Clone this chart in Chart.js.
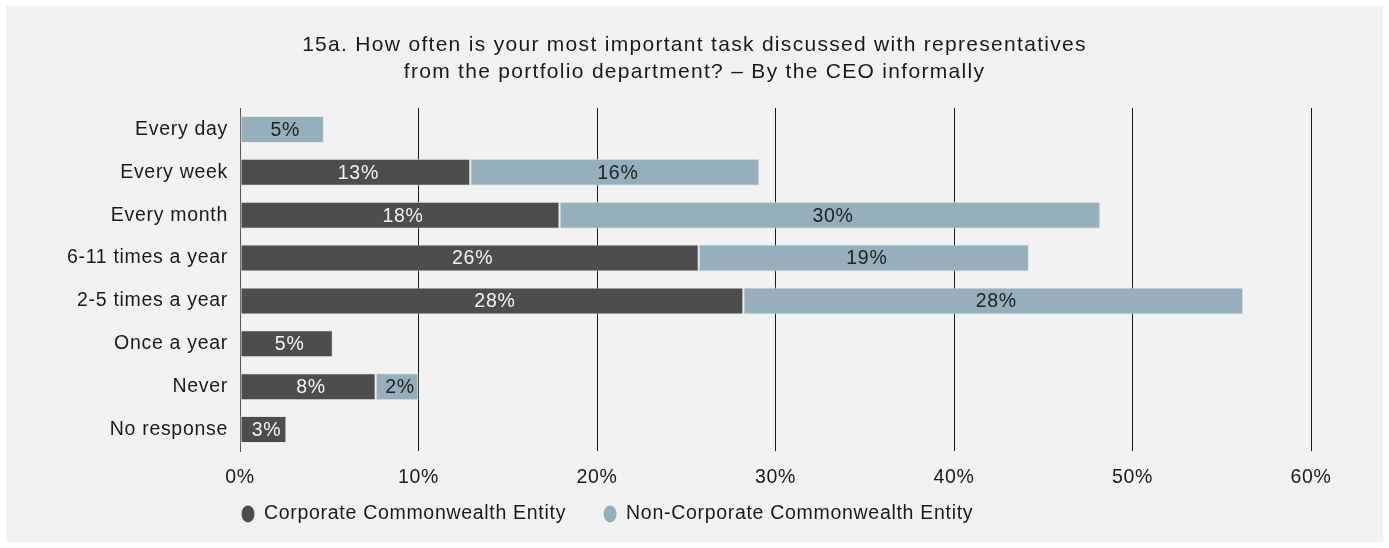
<!DOCTYPE html>
<html>
<head>
<meta charset="utf-8">
<script src="https://cdn.jsdelivr.net/npm/chart.js@4"></script>
<style>
  html, body { margin: 0; padding: 0; background: #ffffff; }
  #card {
    position: absolute;
    left: 6px; top: 6px;
    width: 1377px; height: 536px;
    background: #f2f2f2;
  }
</style>
</head>
<body>
<div id="card"><canvas id="chart"></canvas></div>
<script>
// categories and series (percent of respondents)
const categories = ['Every day', 'Every week', 'Every month', '6-11 times a year',
                    '2-5 times a year', 'Once a year', 'Never', 'No response'];
const corporate = [null, 12.9, 17.9, 25.7, 28.2, 5.2, 7.6, 2.6];
const nonCorporate = [4.7, 16.2, 30.3, 18.5, 28.0, null, 2.4, null];
const xTicks = [0, 10, 20, 30, 40, 50, 60];
const titleLines = ['15a. How often is your most important task discussed with representatives',
                    'from the portfolio department? \u2013 By the CEO informally'];

const FONT = "'Liberation Sans', Arial, Helvetica, sans-serif";
const TEXT = '#1a1a1a';
const SPACING = '0.7px';

// wider tracking, the original font runs wider than Arial
const tracking = {
    id: 'tracking',
    afterInit(chart) { chart.ctx.letterSpacing = SPACING; },
    beforeUpdate(chart) { chart.ctx.letterSpacing = SPACING; },
    beforeDraw(chart) { chart.ctx.letterSpacing = SPACING; }
};

// two line title, centred on the card
const pageTitle = {
    id: 'pageTitle',
    afterDraw(chart) {
        const ctx = chart.ctx;
        ctx.save();
        ctx.letterSpacing = '1.3px';
        ctx.font = '21px ' + FONT;
        ctx.fillStyle = TEXT;
        ctx.textAlign = 'center';
        ctx.textBaseline = 'alphabetic';
        titleLines.forEach(function(line, i) {
            ctx.fillText(line, chart.width / 2, 45 + i * 27);
        });
        ctx.restore();
    }
};

// draws the value inside every bar
const barLabels = {
    id: 'barLabels',
    afterDatasetsDraw(chart) {
        const ctx = chart.ctx;
        ctx.save();
        ctx.font = '19.5px ' + FONT;
        ctx.textAlign = 'center';
        ctx.textBaseline = 'middle';
        chart.data.datasets.forEach(function(ds, i) {
            const meta = chart.getDatasetMeta(i);
            meta.data.forEach(function(bar, j) {
                const v = ds.data[j];
                if (v === null || v === undefined) return;
                const left = Math.min(bar.x, bar.base);
                const right = Math.max(bar.x, bar.base);
                ctx.fillStyle = i === 0 ? '#f4f4f4' : '#222222';
                ctx.fillText(Math.round(v) + '%', (left + right) / 2 + 3, bar.y + 1);
            });
        });
        ctx.restore();
    }
};

// legend under the axis, starting at the left edge of the plot
const bottomLegend = {
    id: 'bottomLegend',
    afterDraw(chart) {
        const ctx = chart.ctx;
        const y = chart.chartArea.bottom + 63;
        let x = chart.chartArea.left + 8;
        ctx.save();
        ctx.font = '19.5px ' + FONT;
        ctx.textBaseline = 'middle';
        ctx.textAlign = 'left';
        chart.data.datasets.forEach(function(ds) {
            ctx.fillStyle = ds.backgroundColor;
            ctx.beginPath();
            ctx.ellipse(x, y, 6.5, 8.5, 0, 0, Math.PI * 2);
            ctx.fill();
            ctx.fillStyle = TEXT;
            ctx.fillText(ds.label, x + 16, y);
            x += 16 + ctx.measureText(ds.label).width + 44;
        });
        ctx.restore();
    }
};

const card = document.getElementById('card');
const canvas = document.getElementById('chart');
canvas.width = card.clientWidth;
canvas.height = card.clientHeight;

new Chart(canvas, {
    type: 'bar',
    data: {
        labels: categories,
        datasets: [{
            label: 'Corporate Commonwealth Entity',
            data: corporate,
            backgroundColor: '#4d4d4f',
            borderColor: 'rgba(225,225,225,0.8)',
            borderWidth: 1,
            borderSkipped: false,
            barPercentage: 0.63,
            categoryPercentage: 1
        }, {
            label: 'Non-Corporate Commonwealth Entity',
            data: nonCorporate,
            backgroundColor: '#95afbc',
            borderColor: 'rgba(225,225,225,0.8)',
            borderWidth: 1,
            borderSkipped: false,
            barPercentage: 0.63,
            categoryPercentage: 1
        }]
    },
    options: {
        indexAxis: 'y',
        responsive: false,
        animation: false,
        layout: { padding: { left: 0, right: 72, top: 102, bottom: 51 } },
        plugins: {
            title: { display: false },
            legend: { display: false },
            tooltip: { enabled: false }
        },
        scales: {
            x: {
                stacked: true,
                min: 0,
                max: 60,
                afterBuildTicks: function(axis) {
                    axis.ticks = xTicks.map(function(v) { return { value: v }; });
                },
                afterFit: function(axis) { axis.height = 40; },
                grid: {
                    color: '#1a1a1a',
                    lineWidth: 1,
                    drawTicks: false
                },
                border: { display: false },
                ticks: {
                    padding: 15,
                    color: TEXT,
                    font: { family: FONT, size: 19.5 },
                    callback: function(value) { return value + '%'; }
                }
            },
            y: {
                stacked: true,
                afterFit: function(axis) { axis.width = 234; },
                grid: { display: false, drawTicks: false },
                border: { display: true, color: '#555555', width: 1 },
                ticks: {
                    padding: 12,
                    color: TEXT,
                    font: { family: FONT, size: 19.5 }
                }
            }
        }
    },
    plugins: [tracking, pageTitle, barLabels, bottomLegend]
});
</script>
</body>
</html>
